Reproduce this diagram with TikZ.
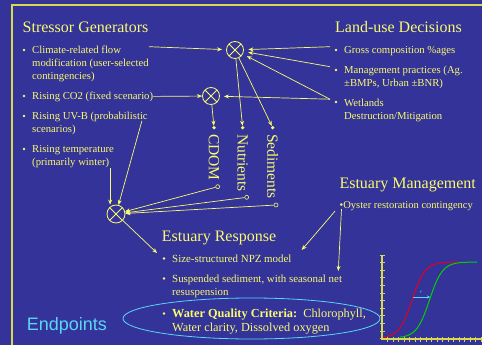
\documentclass[tikz,border=0pt]{standalone}
\usepackage{fontspec}
\setmainfont{Liberation Serif}
\setsansfont{Liberation Sans}
\usetikzlibrary{arrows.meta,shapes.geometric}
\definecolor{slidebg}{RGB}{51,51,153}
\definecolor{slideyel}{RGB}{250,250,110}
\definecolor{axiscol}{RGB}{215,215,80}
\definecolor{slidecyan}{RGB}{90,215,245}
\definecolor{curvered}{RGB}{230,0,30}
\definecolor{curvegreen}{RGB}{0,210,0}
\tikzset{
  title/.style={anchor=base west,inner sep=0,text=slideyel,font=\fontsize{16}{19}\selectfont},
  item/.style={anchor=north west,inner sep=0,align=left,text=slideyel,font=\fontsize{10.7}{13}\selectfont},
  mixer/.style={circle,draw=slideyel,line width=0.8pt,minimum size=17pt,inner sep=0,
    path picture={\draw[slideyel,line width=0.8pt]
      (path picture bounding box.north west) -- (path picture bounding box.south east)
      (path picture bounding box.north east) -- (path picture bounding box.south west);}},
  conn/.style={draw=slideyel,line width=0.7pt,-{Stealth[length=5pt,width=4pt]}},
  vlabel/.style={rotate=-90,anchor=west,inner sep=0,text=slideyel,font=\fontsize{15.5}{18}\selectfont},
  dot/.style={circle,fill=slideyel,inner sep=0,minimum size=3.6pt},
  ring/.style={circle,draw=slideyel,line width=0.6pt,inner sep=0,minimum size=4pt}
}
\begin{document}
\begin{tikzpicture}[x=1pt,y=-1pt]
\useasboundingbox (0,0) rectangle (482,345);
\fill[slidebg] (0,0) rectangle (482,345);
\draw[axiscol,line width=1.2pt] (12,345) -- (12,5) -- (482,5);

% stressors
\node[title] (stress) at (22.5,32.3) {Stressor Generators};
\node[item] (flow) at (32,45.7) {Climate-related flow\\modification (user-selected\\contingencies)};
\node[item] (co2) at (32,91.7) {Rising CO2 (fixed scenario)};
\node[item] (uvb) at (32,112.3) {Rising UV-B (probabilistic\\scenarios)};
\node[item] (temp) at (32,145) {Rising temperature\\(primarily winter)};

% land use
\node[title] (landuse) at (335,32.3) {Land-use Decisions};
\node[item] (gross) at (344,45.7) {Gross composition \%ages};
\node[item] (mgmt) at (344,65.7) {Management practices (Ag.\\±BMPs, Urban ±BNR)};
\node[item] (wet) at (344,98.7) {Wetlands\\Destruction/Mitigation};

\foreach \bx/\by in {24/50,24/96,24/116,24/149,336/50,336/70,336/102,164/258.5,164/278.5,164/313.5}
  \fill[slideyel] (\bx,\by) circle (1.3pt);

% mixers
\node[mixer] (flowmix) at (235,50) {};
\node[mixer] (co2mix) at (211,96) {};
\node[mixer,minimum size=18pt] (respmix) at (116,214) {};

% loads
\node[dot] (cdomdot) at (214,127.7) {};
\node[dot] (nutdot) at (242.7,127.7) {};
\node[dot] (seddot) at (272.7,127.7) {};
\node[vlabel] (cdom) at (214,134) {CDOM};
\node[vlabel] (nut) at (242.7,134) {Nutrients};
\node[vlabel] (sed) at (272.7,134) {Sediments};
\node[ring] (cdomring) at (217.7,186.7) {};
\node[ring] (nutring) at (246.7,197.3) {};
\node[ring] (sedring) at (276,205) {};

\draw[conn,shorten >=4pt] ([yshift=-1pt]flow.north east) -- (flowmix);
\draw[conn] (co2) -- (co2mix);
\draw[conn,shorten >=4.5pt] ([xshift=-14pt,yshift=-1pt]gross.north west) -- (flowmix);
\draw[conn,shorten >=4.5pt] ([xshift=-14pt,yshift=-1pt]mgmt.north west) -- (flowmix);
\draw[conn,shorten >=4.5pt] ([xshift=-14pt,yshift=-0.5pt]wet.north west) -- (flowmix);
\draw[conn,shorten >=4pt] ([xshift=-14pt,yshift=-0.5pt]wet.north west) -- (co2mix);
\draw[conn] (flowmix) -- (nutdot);
\draw[conn] (flowmix) -- (seddot);
\draw[conn] (co2mix) -- (cdomdot);

\draw[conn] ([xshift=-6pt,yshift=-8.5pt]uvb.north east) -- (respmix);
\draw[conn] ([xshift=-4pt]temp.south east) -- ([xshift=-4pt]temp.south east |- respmix.north);
\draw[conn] (cdomring) -- (respmix);
\draw[conn] (nutring) -- (respmix);
\draw[conn] (sedring) -- (respmix);

% estuary response
\coordinate (resptgt) at (157,253);
\draw[conn] (respmix) -- (resptgt);
\node[title] (resp) at (161.7,241.7) {Estuary Response};
\node[item,font=\fontsize{10.9}{13}\selectfont] (npz) at (172,255) {Size-structured NPZ model};
\node[item,font=\fontsize{10.9}{13}\selectfont] (susp) at (172,274.3) {Suspended sediment, with seasonal net\\resuspension};
\node[item,font=\fontsize{12.3}{14.5}\selectfont] (wq) at (172,308.3) {\textbf{Water Quality Criteria:}\ \ Chlorophyll,\\Water clarity, Dissolved oxygen};
\node[ellipse,draw=slidecyan,line width=0.8pt,minimum width=257pt,minimum height=41pt,inner sep=0] (wqring) at (251.5,318.5) {};
\node[anchor=base west,inner sep=0,text=slidecyan,font=\sffamily\fontsize{18}{20}\selectfont] (endpts) at (26.7,330) {Endpoints};

% management
\node[title] (mgt) at (339.3,188.3) {Estuary Management};
\node[item,font=\fontsize{10.5}{13}\selectfont] (oyst) at (339.5,201.5) {\textbullet Oyster restoration contingency};
\coordinate (sedtgt) at (301.7,250);
\coordinate (resustgt) at (338.3,271);
\draw[conn] ([xshift=-4.5pt]oyst.south west) -- (sedtgt);
\draw[conn] ([xshift=2pt,yshift=2pt]oyst.south west) -- (resustgt);

% response curves
\draw[axiscol,line width=1.3pt] (382,255) -- (382,339) -- (482,339);
\foreach \ty in {255,262.6,...,339} \draw[axiscol,line width=0.8pt] (379.5,\ty) -- (384.5,\ty);
\foreach \tx in {387.5,393,...,481} \draw[axiscol,line width=0.8pt] (\tx,337) -- (\tx,341.5);
\draw[curvered,line width=1pt,domain=383:460,samples=80] plot (\x,{338-76/(1+exp(-(\x-412)/6.5))});
\draw[curvegreen,line width=1pt,domain=400:477,samples=80] plot (\x,{338-76/(1+exp(-(\x-429.5)/6.5))});
\draw[slidecyan,line width=0.8pt,-{Stealth[length=3pt,width=3pt]}] (413,297) -- (430,297);
\node[text=slidecyan,inner sep=0,font=\fontsize{4}{4}\selectfont] (shift) at (421,292.5) {$\tau$};
\end{tikzpicture}
\end{document}
